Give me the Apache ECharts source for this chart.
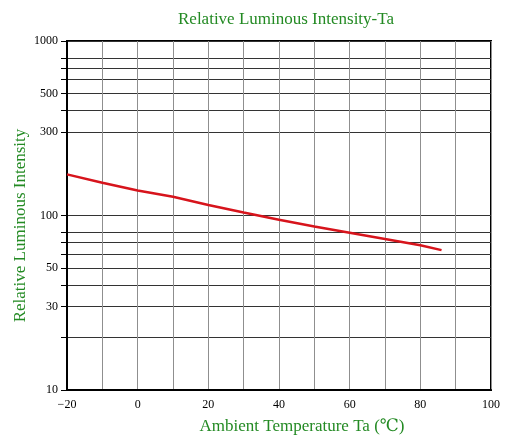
<!DOCTYPE html>
<html><head><meta charset="utf-8">
<script src="https://cdn.jsdelivr.net/npm/echarts@6/dist/echarts.min.js"></script>
<style>html,body{margin:0;padding:0;background:#fff}#c{width:505px;height:440px}</style>
</head><body><div id="c"></div>
<script>
const temperatures = [-20, -10, 0, 10, 20, 30, 40, 50, 60, 70, 80, 86];
const intensity = [172, 154, 139, 128, 115, 104, 94.5, 86.6, 79.7, 73.3, 67.6, 63.3];
const xTickLabels = [-20, 0, 20, 40, 60, 80, 100];
const yTickLabels = [10, 30, 50, 100, 300, 500, 1000];
const yGridValues = [10, 20, 30, 40, 50, 60, 70, 80, 100, 300, 400, 500, 600, 700, 800, 1000];

const GREEN = '#238a23';
const SERIF = '"Liberation Serif", "DejaVu Serif", serif';

const chart = echarts.init(document.getElementById('c'), null, {renderer: 'canvas'});
chart.setOption({
  animation: false,
  backgroundColor: '#fff',
  title: {
    text: 'Relative Luminous Intensity-Ta',
    left: 173, top: 6,
    textStyle: {color: GREEN, fontFamily: SERIF, fontSize: 17, fontWeight: 'normal'}
  },
  grid: {left: 67, right: 14, top: 41, bottom: 50, show: true, borderColor: '#000', borderWidth: 2,
         backgroundColor: 'transparent', containLabel: false, outerBoundsMode: 'none'},
  xAxis: {
    type: 'value', min: -20, max: 100, interval: 10,
    axisLine: {onZero: false, lineStyle: {color: '#000', width: 2}},
    axisTick: {show: false},
    splitLine: {show: true, lineStyle: {color: '#8f8f8f', width: 1}},
    axisLabel: {
      customValues: xTickLabels,
      formatter: v => String(v).replace('-', '\u2212'),
      fontFamily: SERIF, fontSize: 12, color: '#000', margin: 9
    },
    name: 'Ambient Temperature Ta (\u2103)',
    nameLocation: 'middle', nameGap: 28,
    nameTextStyle: {color: GREEN, fontFamily: SERIF, fontSize: 17, padding: [0, 0, 0, 46]}
  },
  yAxis: {
    type: 'log', logBase: 10, min: 10, max: 1000,
    axisLine: {onZero: false, lineStyle: {color: '#000', width: 2}},
    axisTick: {show: true, customValues: yGridValues, length: 6, lineStyle: {color: '#000'}},
    splitLine: {show: true, lineStyle: {color: '#333', width: 1}},
    minorSplitLine: {show: false},
    axisLabel: {customValues: yTickLabels, formatter: v => String(v),
                fontFamily: SERIF, fontSize: 12, color: '#000', margin: 9},
    name: 'Relative Luminous Intensity',
    nameLocation: 'middle', nameGap: 38, nameMoveOverlap: false,
    nameTextStyle: {color: GREEN, fontFamily: SERIF, fontSize: 17, padding: [0, 20, 0, 0]}
  },
  series: [{
    type: 'line',
    data: temperatures.map((t, i) => [t, intensity[i]]),
    showSymbol: false, silent: true,
    lineStyle: {color: '#d7141c', width: 2.5}
  }]
});
</script>
</body></html>
